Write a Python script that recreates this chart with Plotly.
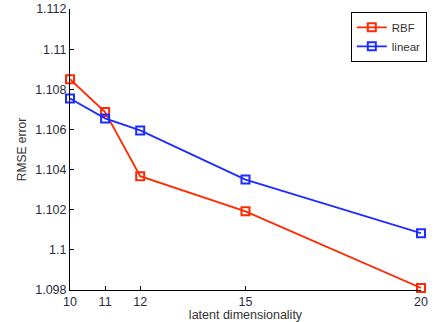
import plotly.graph_objects as go

dims = [10, 11, 12, 15, 20]
rbf = [1.1085, 1.10687, 1.10367, 1.10192, 1.0981]
linear = [1.10754, 1.10655, 1.10595, 1.1035, 1.10083]
yticks = [1.098, 1.1, 1.102, 1.104, 1.106, 1.108, 1.11, 1.112]
yticklabels = ["1.098", "1.1", "1.102", "1.104", "1.106", "1.108", "1.11", "1.112"]

fig = go.Figure()
fig.add_trace(go.Scatter(x=dims, y=rbf, name="RBF", mode="lines+markers",
                         line=dict(color="#ff2a00", width=1.8),
                         marker=dict(symbol="square-open", size=8, color="#ff2a00", line=dict(width=2)),
                         cliponaxis=False))
fig.add_trace(go.Scatter(x=dims, y=linear, name="linear", mode="lines+markers",
                         line=dict(color="#1a2cff", width=1.8),
                         marker=dict(symbol="square-open", size=8, color="#1a2cff", line=dict(width=2)),
                         cliponaxis=False))

axfont = dict(family="Liberation Sans, Arial, sans-serif", size=12.5, color="#2a2a40")
fig.update_layout(
    template="none",
    width=436, height=322,
    margin=dict(l=70, r=10, t=9, b=32, pad=0),
    paper_bgcolor="white", plot_bgcolor="white",
    font=axfont,
    showlegend=True,
    legend=dict(x=0.8, y=0.99, xanchor="left", yanchor="top",
                bordercolor="black", borderwidth=1, bgcolor="white",
                font=dict(size=11.5, color="#333"), tracegroupgap=0,
                itemwidth=30),
    xaxis=dict(range=[10, 20], tickvals=dims, ticktext=[str(d) for d in dims], automargin=False,
               showgrid=False, zeroline=False, showline=True, linecolor="black", linewidth=1,
               ticks="inside", ticklen=4, tickcolor="black",
               title=dict(text="latent dimensionality", standoff=1, font=dict(size=12.5, color="#333"))),
    yaxis=dict(range=[1.098, 1.112], tickvals=yticks, ticktext=yticklabels, automargin=False,
               showgrid=False, zeroline=False, showline=True, linecolor="black", linewidth=1,
               ticks="inside", ticklen=4, tickcolor="black",
               title=dict(text="RMSE error", standoff=6, font=dict(size=12, color="#333"))),
)
fig.write_html("out.html")
